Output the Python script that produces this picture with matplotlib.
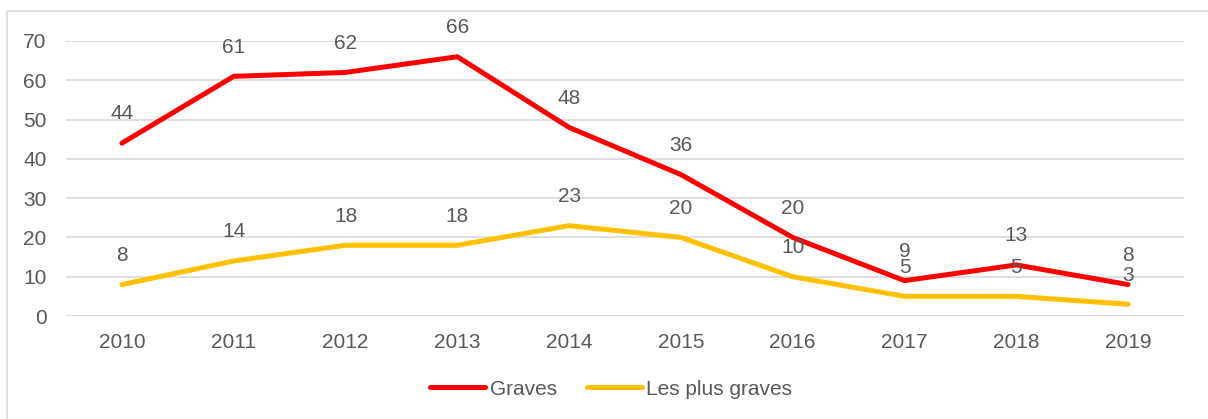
import matplotlib
matplotlib.use("Agg")
from matplotlib import pyplot as plt
from matplotlib.patches import Rectangle

years = ["2010", "2011", "2012", "2013", "2014", "2015", "2016", "2017", "2018", "2019"]
graves = [44, 61, 62, 66, 48, 36, 20, 9, 13, 8]
plus_graves = [8, 14, 18, 18, 23, 20, 10, 5, 5, 3]

plt.rcParams['font.family'] = ['Liberation Sans', 'DejaVu Sans']
txt = '#595959'
grid = '#D9D9D9'
fs = 15

fig = plt.figure(figsize=(12.08, 4.19), dpi=100)
ax = fig.add_axes([66 / 1208, 103 / 419, 1118 / 1208, 275 / 419])

# outer chart border
fig.patches.append(Rectangle((7 / 1208, -0.1), 1.2, (419 - 11) / 419 + 0.1,
                             transform=fig.transFigure, fill=False,
                             edgecolor=grid, linewidth=1.2))

x = list(range(len(years)))
ax.plot(x, graves, color='#FF0000', linewidth=3.6, label='Graves',
        solid_capstyle='round', zorder=3)
ax.plot(x, plus_graves, color='#FFC000', linewidth=3.6, label='Les plus graves',
        solid_capstyle='round', zorder=3)

for xi, v in zip(x, graves):
    ax.annotate(str(v), (xi, v), xytext=(0, 21), textcoords='offset points',
                ha='center', va='center', fontsize=fs, color=txt)
for xi, v in zip(x, plus_graves):
    ax.annotate(str(v), (xi, v), xytext=(0, 21), textcoords='offset points',
                ha='center', va='center', fontsize=fs, color=txt)

ax.set_xlim(-0.5, len(years) - 0.5)
ax.set_ylim(0, 70)
ax.set_yticks(range(0, 71, 10))
ax.set_xticks(x)
ax.set_xticklabels(years)
ax.yaxis.grid(True, color=grid, linewidth=1.2)
ax.set_axisbelow(True)
for s in ax.spines.values():
    s.set_visible(False)
ax.tick_params(length=0, labelsize=fs, labelcolor=txt)
ax.tick_params(axis='y', pad=14)
ax.tick_params(axis='x', pad=12)

fig.legend(loc='center', bbox_to_anchor=(0.506, (419 - 389) / 419), ncol=2,
           frameon=False, fontsize=fs, labelcolor=txt, handlelength=2.65,
           handletextpad=0.2, columnspacing=1.45)

fig.savefig('out.png', dpi=100)
